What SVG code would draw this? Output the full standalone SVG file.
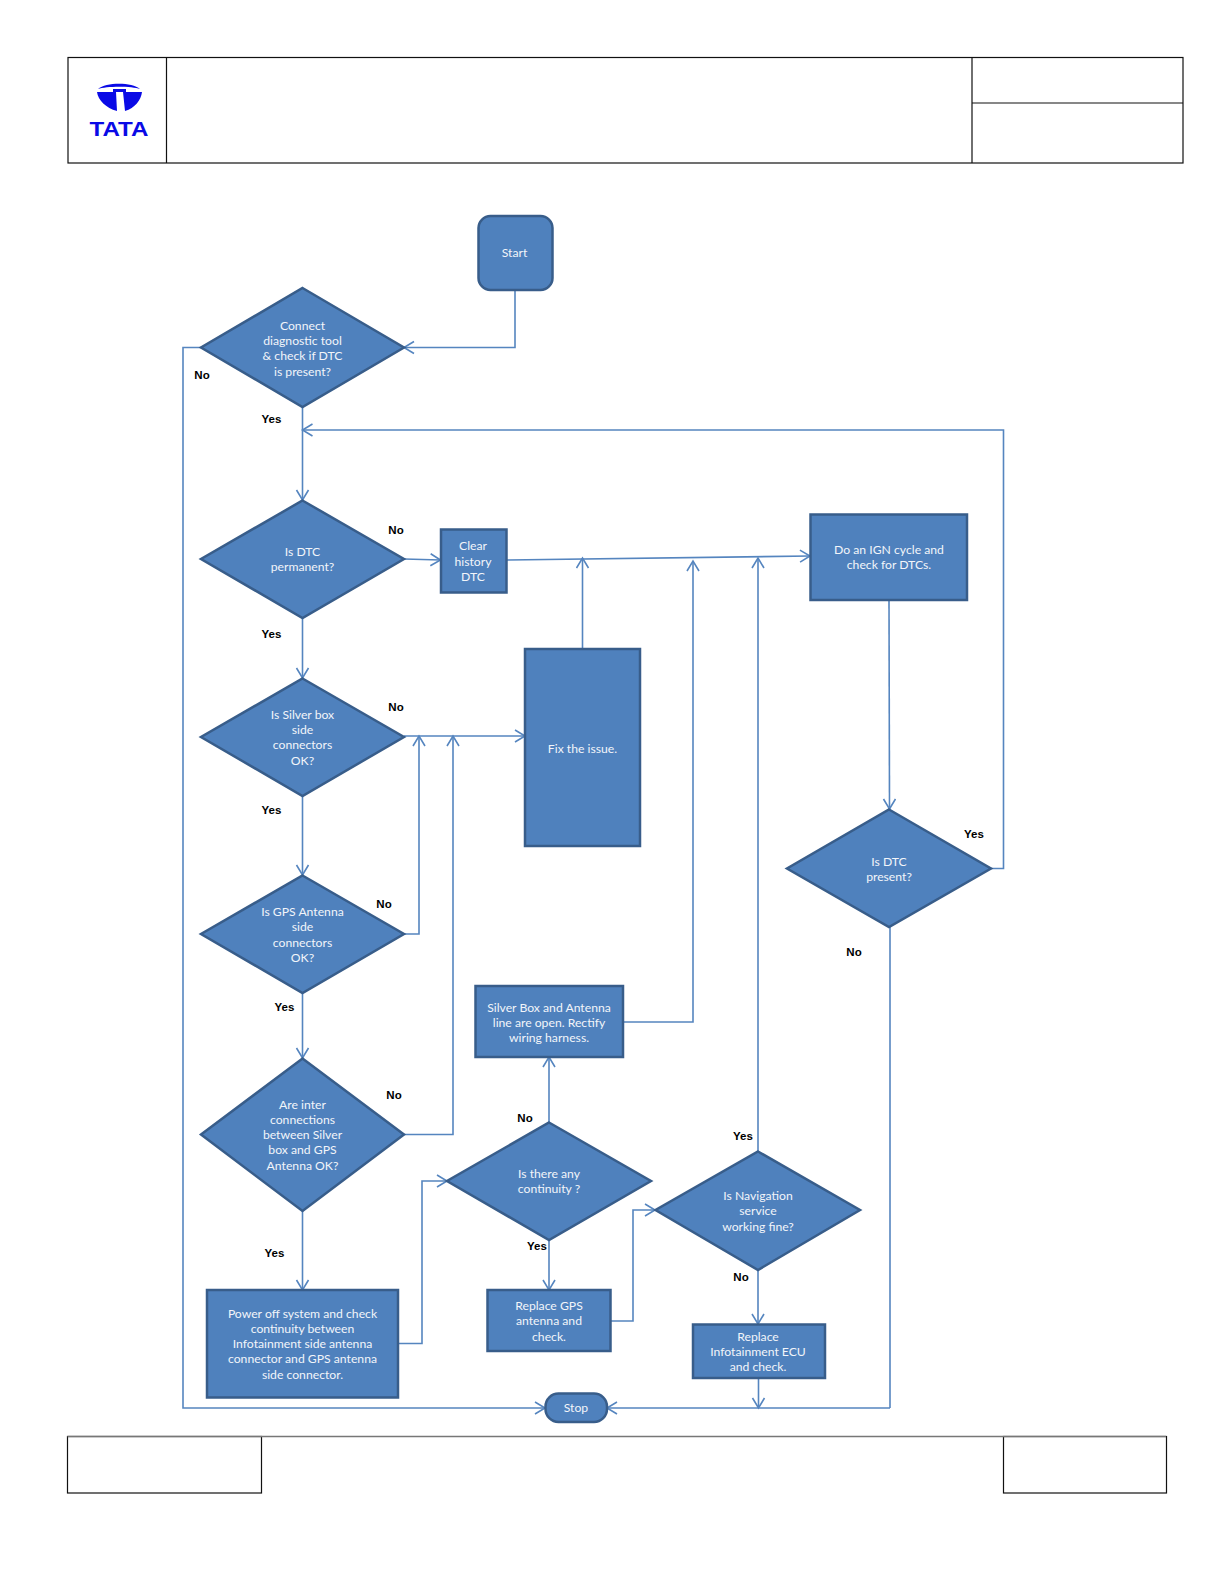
<svg xmlns="http://www.w3.org/2000/svg" width="1230" height="1593" viewBox="0 0 1230 1593">
<style>
.n{fill:#4f81bd;stroke:#385d8a;stroke-width:2.5}
.t{font:12.2px Lato,"Liberation Sans",sans-serif;fill:#f2f5fa;text-anchor:middle}
.l{font:bold 11.5px "Liberation Sans",Arial,sans-serif;fill:#000;text-anchor:middle}
.c{fill:none;stroke:#5585bf;stroke-width:1.6;marker-end:url(#a)}
.c0{fill:none;stroke:#5585bf;stroke-width:1.6}
.f{fill:none;stroke:#111;stroke-width:1.2}
</style>
<defs><marker id="a" markerUnits="userSpaceOnUse" markerWidth="14" markerHeight="16" refX="11.5" refY="7" orient="auto"><path d="M1.5 1L11.5 7L1.5 13" fill="none" stroke="#5585bf" stroke-width="1.6"/></marker></defs>
<rect width="1230" height="1593" fill="#fff"/>
<g id="header">
<rect class="f" x="68" y="57.500" width="1115" height="105.500"/>
<path class="f" d="M166.500 57.500V163M972 57.500V163M972 103H1183"/>
</g>
<g id="logo" fill="#0a0ae6">
<path d="M98 89C106 82 132 82 140 89C132 86 106 86 98 89Z"/>
<path d="M97 92H142C141 100 135 108 125 111L123 92ZM97 92H116L117 111C106 108 98 100 97 92Z"/>
<path d="M113 89H126V92H113Z"/>
<text x="119" y="136" font-family="Liberation Sans,sans-serif" font-weight="bold" font-size="20" text-anchor="middle" textLength="59" lengthAdjust="spacingAndGlyphs">TATA</text>
</g>
<g id="footer">
<rect class="f" x="67.500" y="1436.500" width="194" height="56.500"/>
<rect class="f" x="1003.500" y="1436.500" width="163" height="56.500"/>
<path d="M67.500 1436.500H1166" stroke="#777" stroke-width="1.500" fill="none"/>
</g>
<g id="connectors">
<path class="c" d="M515 290V347.500H404"/>
<path class="c" d="M201 347.500H183V1408H545"/>
<path class="c" d="M302.500 407V500"/>
<path class="c" d="M991 868.500H1003.500V430H302.500"/>
<path class="c" d="M404 559L440.500 560"/>
<path class="c" d="M506.500 560L810 556"/>
<path class="c" d="M302.500 618V678"/>
<path class="c" d="M302.500 796V875"/>
<path class="c" d="M302.500 993V1058"/>
<path class="c" d="M302.500 1211V1290"/>
<path class="c" d="M404 736H525"/>
<path class="c" d="M404 934H419V736"/>
<path class="c" d="M404 1134.500H453V736"/>
<path class="c" d="M582.500 649V558"/>
<path class="c" d="M623 1022H693V561"/>
<path class="c" d="M758 1151V558"/>
<path class="c" d="M889 600L889.500 809"/>
<path class="c0" d="M890 927V1408"/>
<path class="c" d="M890 1408H607"/>
<path class="c" d="M398 1343.500H422V1181H447"/>
<path class="c" d="M549 1122V1057"/>
<path class="c" d="M549 1240V1290"/>
<path class="c" d="M610.500 1321H633V1210H655"/>
<path class="c" d="M758 1270V1324"/>
<path class="c" d="M758.500 1378V1408"/>
</g>
<g id="start"><rect class="n" x="478.500" y="216" width="74" height="74" rx="12"/><text class="t" x="514.500" y="257">Start</text></g>
<g id="d1"><path class="n" d="M302.500 288L404 347.500L302.500 407L201 347.500Z"/><text class="t" x="302.500" y="330">Connect</text><text class="t" x="302.500" y="345">diagnostic tool</text><text class="t" x="302.500" y="360">&amp; check if DTC</text><text class="t" x="302.500" y="376">is present?</text></g>
<g id="d2"><path class="n" d="M302.500 500.500L404 559L302.500 618L201 559Z"/><text class="t" x="302.500" y="556">Is DTC</text><text class="t" x="302.500" y="571">permanent?</text></g>
<g id="clear"><rect class="n" x="441" y="529.500" width="65.500" height="63"/><text class="t" x="473" y="550">Clear</text><text class="t" x="473" y="566">history</text><text class="t" x="473" y="581">DTC</text></g>
<g id="ign"><rect class="n" x="810.500" y="514.500" width="156.500" height="85.500"/><text class="t" x="889" y="554">Do an IGN cycle and</text><text class="t" x="889" y="569">check for DTCs.</text></g>
<g id="d3"><path class="n" d="M302.500 678.500L404 737L302.500 796L201 737Z"/><text class="t" x="302.500" y="719">Is  Silver box</text><text class="t" x="302.500" y="734">side</text><text class="t" x="302.500" y="749">connectors</text><text class="t" x="302.500" y="765">OK?</text></g>
<g id="fix"><rect class="n" x="525" y="649" width="115" height="197"/><text class="t" x="582.500" y="753">Fix the issue.</text></g>
<g id="d8"><path class="n" d="M889 809.500L991 868.500L889 927L787 868.500Z"/><text class="t" x="889" y="866">Is DTC</text><text class="t" x="889" y="881">present?</text></g>
<g id="d4"><path class="n" d="M302.500 875.500L404 934L302.500 993L201 934Z"/><text class="t" x="302.500" y="916">Is GPS Antenna</text><text class="t" x="302.500" y="931">side</text><text class="t" x="302.500" y="947">connectors</text><text class="t" x="302.500" y="962">OK?</text></g>
<g id="silver"><rect class="n" x="475.500" y="986" width="147.500" height="71"/><text class="t" x="549" y="1012">Silver Box and Antenna</text><text class="t" x="549" y="1027">line are open. Rectify</text><text class="t" x="549" y="1042">wiring harness.</text></g>
<g id="d5"><path class="n" d="M302.500 1058.500L404 1134.500L302.500 1211L201 1134.500Z"/><text class="t" x="302.500" y="1109">Are inter</text><text class="t" x="302.500" y="1124">connections</text><text class="t" x="302.500" y="1139">between Silver</text><text class="t" x="302.500" y="1154">box and GPS</text><text class="t" x="302.500" y="1170">Antenna OK?</text></g>
<g id="d6"><path class="n" d="M549 1122.500L651 1181L549 1240L447 1181Z"/><text class="t" x="549" y="1178">Is there any</text><text class="t" x="549" y="1193">continuity ?</text></g>
<g id="d7"><path class="n" d="M758 1151.500L860 1210L758 1270L655.500 1210Z"/><text class="t" x="758" y="1200">Is Navigation</text><text class="t" x="758" y="1215">service</text><text class="t" x="758" y="1231">working fine?</text></g>
<g id="power"><rect class="n" x="207" y="1290" width="191" height="107.500"/><text class="t" x="302.500" y="1318">Power off system and check</text><text class="t" x="302.500" y="1333">continuity between</text><text class="t" x="302.500" y="1348">Infotainment side antenna</text><text class="t" x="302.500" y="1363">connector and GPS antenna</text><text class="t" x="302.500" y="1379">side connector.</text></g>
<g id="gps"><rect class="n" x="487.500" y="1290" width="123" height="61"/><text class="t" x="549" y="1310">Replace GPS</text><text class="t" x="549" y="1325">antenna and</text><text class="t" x="549" y="1341">check.</text></g>
<g id="info"><rect class="n" x="693" y="1324.500" width="132" height="53.500"/><text class="t" x="758" y="1341">Replace</text><text class="t" x="758" y="1356">Infotainment ECU</text><text class="t" x="758" y="1371">and check.</text></g>
<g id="stop"><rect class="n" x="545.500" y="1393.500" width="61.500" height="28.500" rx="13"/><text class="t" x="576" y="1412">Stop</text></g>
<g id="labels">
<text class="l" x="202" y="379">No</text><text class="l" x="271.500" y="423">Yes</text>
<text class="l" x="396" y="534">No</text><text class="l" x="271.500" y="638">Yes</text>
<text class="l" x="396" y="711">No</text><text class="l" x="271.500" y="814">Yes</text>
<text class="l" x="384" y="908">No</text><text class="l" x="284.500" y="1011">Yes</text>
<text class="l" x="394" y="1099">No</text><text class="l" x="274.500" y="1257">Yes</text>
<text class="l" x="525" y="1122">No</text><text class="l" x="537" y="1250">Yes</text>
<text class="l" x="743" y="1140">Yes</text><text class="l" x="741" y="1281">No</text>
<text class="l" x="974" y="838">Yes</text><text class="l" x="854" y="956">No</text>
</g>
</svg>
